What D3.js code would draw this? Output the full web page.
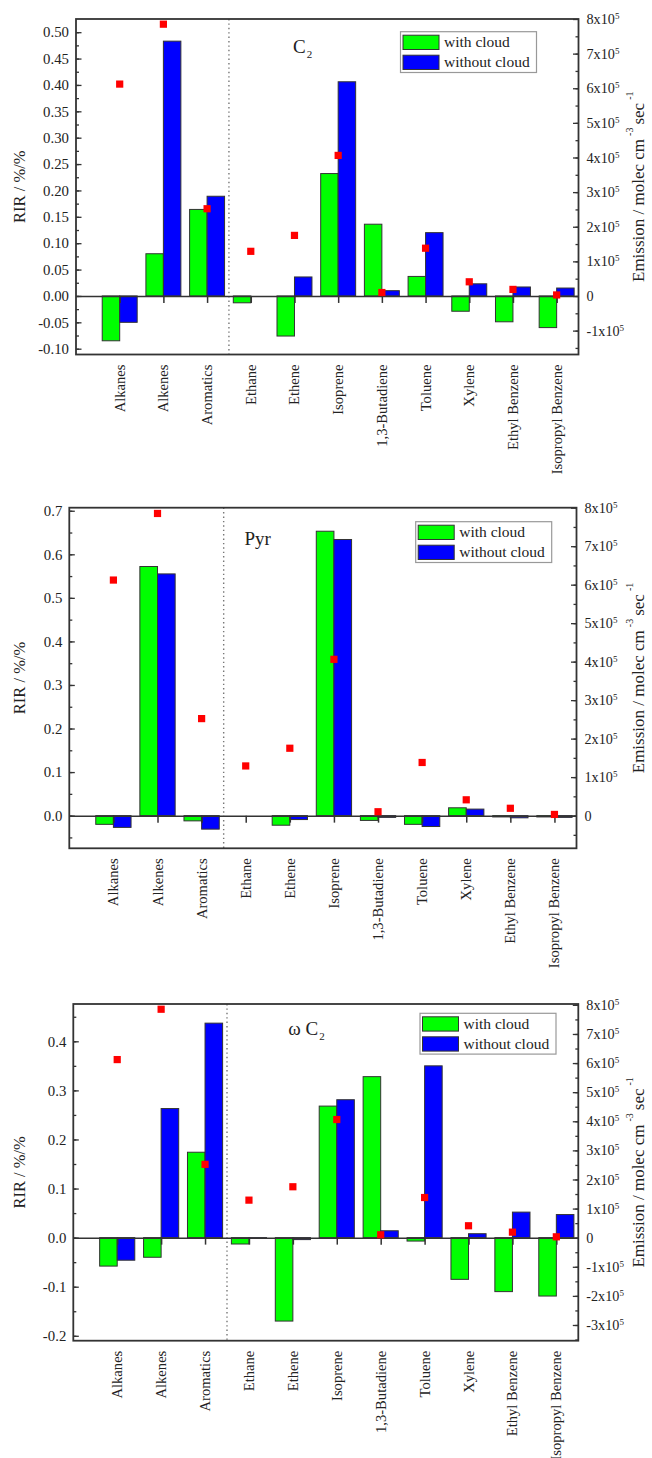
<!DOCTYPE html>
<html>
<head>
<meta charset="utf-8">
<script src="https://cdn.jsdelivr.net/npm/d3@7"></script>
<style>
  body { margin: 0; background: #fff; }
  svg { display: block; }
  text { font-family: "Liberation Serif", "Times New Roman", serif; fill: #222; }
</style>
</head>
<body>
<svg id="fig" width="652" height="1458"></svg>
<script>
// ---- data -------------------------------------------------------------
const categories = ["Alkanes", "Alkenes", "Aromatics", "Ethane", "Ethene", "Isoprene",
  "1,3-Butadiene", "Toluene", "Xylene", "Ethyl Benzene", "Isopropyl Benzene"];

// emission rate of each VOC group (molec cm^-3 sec^-1), right axis
const emission = [6.12e5, 7.85e5, 2.52e5, 1.29e5, 1.75e5, 4.06e5, 0.10e5, 1.38e5, 0.41e5, 0.19e5, 0.03e5];

// relative incremental reactivity (%/%) for each response
const rirC2WithCloud      = [-0.085, 0.080, 0.164, -0.013, -0.076, 0.232, 0.136, 0.037, -0.029, -0.049, -0.060];
const rirC2WithoutCloud   = [-0.050, 0.483, 0.189, 0.000, 0.036, 0.406, 0.010, 0.120, 0.023, 0.017, 0.015];
const rirPyrWithCloud     = [-0.020, 0.572, -0.012, 0.000, -0.022, 0.653, -0.011, -0.020, 0.018, -0.003, -0.003];
const rirPyrWithoutCloud  = [-0.027, 0.555, -0.031, 0.000, -0.009, 0.634, -0.004, -0.025, 0.015, -0.005, -0.004];
const rirOmegaWithCloud   = [-0.058, -0.040, 0.174, -0.013, -0.170, 0.268, 0.328, -0.007, -0.085, -0.110, -0.119];
const rirOmegaWithoutCloud= [-0.046, 0.263, 0.437, -0.001, -0.004, 0.281, 0.014, 0.350, 0.008, 0.052, 0.047];

const seriesNames = ["with cloud", "without cloud"];
const seriesColors = ["#00ff00", "#0000ff"];

// ---- panel layout -----------------------------------------------------
const panels = [
  { withCloud: rirC2WithCloud, withoutCloud: rirC2WithoutCloud,
    title: [["", "C"], ["sub", "2"]], titleX: 293, titleY: 53,
    left: 76, right: 578.5, top: 19, bottom: 354.5,
    yDomain: [-0.111, 0.525], yStep: 0.05, yFmt: ".2f",
    rDomain: [-1.69e5, 8.0e5], rMin: -1, rMax: 8,
    legendX: 400.5, legendY: 31.7 },
  { withCloud: rirPyrWithCloud, withoutCloud: rirPyrWithoutCloud,
    title: [["", "Pyr"]], titleX: 244.5, titleY: 545,
    left: 69.3, right: 576.5, top: 507.7, bottom: 848.3,
    yDomain: [-0.075, 0.707], yStep: 0.1, yFmt: ".1f",
    rDomain: [-0.85e5, 8.0e5], rMin: 0, rMax: 8,
    legendX: 415.7, legendY: 521.7 },
  { withCloud: rirOmegaWithCloud, withoutCloud: rirOmegaWithoutCloud,
    title: [["", "\u03c9 C"], ["sub", "2"]], titleX: 288.3, titleY: 1035,
    left: 73.3, right: 578.3, top: 1004, bottom: 1340.7,
    yDomain: [-0.21, 0.476], yStep: 0.1, yFmt: ".1f",
    rDomain: [-3.54e5, 8.03e5], rMin: -3, rMax: 8,
    legendX: 420, legendY: 1013.3 }
];

const svg = d3.select("#fig");
const ink = "#333";
const eps = 1e-9;

function drawPanel(p) {
  const g = svg.append("g");
  const x = d3.scaleLinear().domain([0, categories.length + 0.5]).range([p.left, p.right]);
  const y = d3.scaleLinear().domain(p.yDomain).range([p.bottom, p.top]);
  const yr = d3.scaleLinear().domain(p.rDomain).range([p.bottom, p.top]);
  const barW = 0.4;

  // separator between group totals and individual species
  g.append("line")
    .attr("x1", x(3.5)).attr("x2", x(3.5))
    .attr("y1", p.top).attr("y2", p.bottom)
    .attr("stroke", "#777").attr("stroke-width", 1.4)
    .attr("stroke-dasharray", "1.4,3");

  // bars
  const rows = categories.map((c, i) => ({ c, i, v: [p.withCloud[i], p.withoutCloud[i]] }));
  [0, 1].forEach(s => {
    g.append("g").selectAll("rect").data(rows).join("rect")
      .attr("x", d => s === 0 ? x(d.i + 1 - barW) : x(d.i + 1))
      .attr("width", x(barW) - x(0))
      .attr("y", d => y(Math.max(0, d.v[s])))
      .attr("height", d => Math.abs(y(d.v[s]) - y(0)))
      .attr("fill", seriesColors[s])
      .attr("stroke", ink).attr("stroke-width", 1)
      .attr("display", d => d.v[s] === 0 ? "none" : null);
  });

  // zero line with category ticks
  g.append("g")
    .attr("transform", `translate(0,${y(0)})`)
    .call(d3.axisBottom(x).tickValues(d3.range(1, categories.length + 1))
      .tickSizeInner(7).tickSizeOuter(0).tickFormat(""))
    .call(a => a.selectAll("path,line").attr("stroke", ink).attr("stroke-width", 1.5));

  // emission markers
  g.append("g").selectAll("rect").data(emission).join("rect")
    .attr("x", (d, i) => x(i + 1) - 3.6)
    .attr("y", d => yr(d) - 3.6)
    .attr("width", 7.2).attr("height", 7.2)
    .attr("fill", "#ff0000");

  // frame
  g.append("rect")
    .attr("x", p.left).attr("y", p.top)
    .attr("width", p.right - p.left).attr("height", p.bottom - p.top)
    .attr("fill", "none").attr("stroke", ink).attr("stroke-width", 1.8);

  // left axis: major and minor ticks pointing inward
  const lo = Math.ceil(p.yDomain[0] / p.yStep - eps), hi = Math.floor(p.yDomain[1] / p.yStep + eps);
  const major = d3.range(lo, hi + 1).map(k => +(k * p.yStep).toFixed(4));
  const minor = d3.range(lo * 2 - 1, hi * 2 + 2).map(k => +(k * p.yStep / 2).toFixed(4))
    .filter(v => v > p.yDomain[0] && v < p.yDomain[1]);
  g.append("g").attr("transform", `translate(${p.left},0)`)
    .call(d3.axisLeft(y).tickValues(minor).tickSizeInner(-3).tickSizeOuter(0).tickFormat(""))
    .call(a => { a.select(".domain").remove(); a.selectAll("line").attr("stroke", ink).attr("stroke-width", 1.3); });
  g.append("g").attr("transform", `translate(${p.left},0)`)
    .call(d3.axisLeft(y).tickValues(major).tickSizeInner(-5.5).tickSizeOuter(0)
      .tickPadding(7).tickFormat(d3.format(p.yFmt)))
    .call(a => {
      a.select(".domain").remove();
      a.selectAll("line").attr("stroke", ink).attr("stroke-width", 1.3);
      a.selectAll("text").attr("font-family", "Liberation Serif, serif")
        .attr("font-size", 14.8).attr("fill", "#222")
        .text(d => d3.format(p.yFmt)(d).replace("\u2212", "-"));
    });

  // right axis (emission)
  const rMajor = d3.range(p.rMin, p.rMax + 1).map(k => k * 1e5);
  const rMinor = d3.range(p.rMin * 2 - 1, p.rMax * 2 + 2).map(k => k * 0.5e5)
    .filter(v => v > p.rDomain[0] && v < p.rDomain[1]);
  g.append("g").attr("transform", `translate(${p.right},0)`)
    .call(d3.axisRight(yr).tickValues(rMinor).tickSizeInner(-3).tickSizeOuter(0).tickFormat(""))
    .call(a => { a.select(".domain").remove(); a.selectAll("line").attr("stroke", ink).attr("stroke-width", 1.3); });
  g.append("g").attr("transform", `translate(${p.right},0)`)
    .call(d3.axisRight(yr).tickValues(rMajor).tickSizeInner(-5.5).tickSizeOuter(0)
      .tickPadding(8).tickFormat(""))
    .call(a => {
      a.select(".domain").remove();
      a.selectAll("line").attr("stroke", ink).attr("stroke-width", 1.3);
      a.selectAll("text").attr("font-family", "Liberation Serif, serif")
        .attr("font-size", 14.2).attr("fill", "#222")
        .each(function (d) {
          const t = d3.select(this);
          const m = Math.round(d / 1e5);
          if (m === 0) { t.text("0"); return; }
          t.append("tspan").text(`${m}x10`);
          t.append("tspan").attr("font-size", 9).attr("dy", "-0.55em").text("5");
        });
    });

  // axis titles
  const cy = (p.top + p.bottom) / 2;
  g.append("text")
    .attr("transform", `translate(19,${cy}) rotate(-90)`)
    .attr("text-anchor", "middle").attr("dominant-baseline", "central")
    .attr("font-size", 16.5).text("RIR / %/%");
  const rt = g.append("text")
    .attr("transform", `translate(638,${cy}) rotate(-90)`)
    .attr("text-anchor", "middle").attr("dominant-baseline", "central")
    .attr("font-size", 17);
  rt.append("tspan").text("Emission / molec cm");
  rt.append("tspan").attr("font-size", 10).attr("dx", 3).attr("dy", -9).text("-3");
  rt.append("tspan").attr("dx", 3).attr("dy", 9).text("sec");
  rt.append("tspan").attr("font-size", 10).attr("dx", 3).attr("dy", -9).text("-1");

  // category labels
  g.append("g").selectAll("text").data(categories).join("text")
    .attr("transform", (d, i) => `translate(${x(i + 1)},${p.bottom + 10}) rotate(-90)`)
    .attr("text-anchor", "end").attr("dominant-baseline", "central")
    .attr("font-size", 14.6).text(d => d);

  // panel title
  const tt = g.append("text").attr("x", p.titleX).attr("y", p.titleY).attr("font-size", 19);
  p.title.forEach(([kind, s]) => {
    const ts = tt.append("tspan").text(s);
    if (kind === "sub") ts.attr("font-size", 11).attr("dy", 5).attr("dx", 1);
  });

  // legend
  const lg = g.append("g").attr("transform", `translate(${p.legendX},${p.legendY})`);
  lg.append("rect").attr("width", 136).attr("height", 40.8)
    .attr("fill", "#fff").attr("stroke", "#999").attr("stroke-width", 1.2);
  seriesNames.forEach((name, s) => {
    lg.append("rect").attr("x", 2.5).attr("y", 3.5 + s * 20).attr("width", 36).attr("height", 14.3)
      .attr("fill", seriesColors[s]).attr("stroke", ink).attr("stroke-width", 1);
    lg.append("text").attr("x", 43.5).attr("y", 15.6 + s * 20)
      .attr("font-size", 15.5).text(name);
  });
}

panels.forEach(drawPanel);
</script>
</body>
</html>
